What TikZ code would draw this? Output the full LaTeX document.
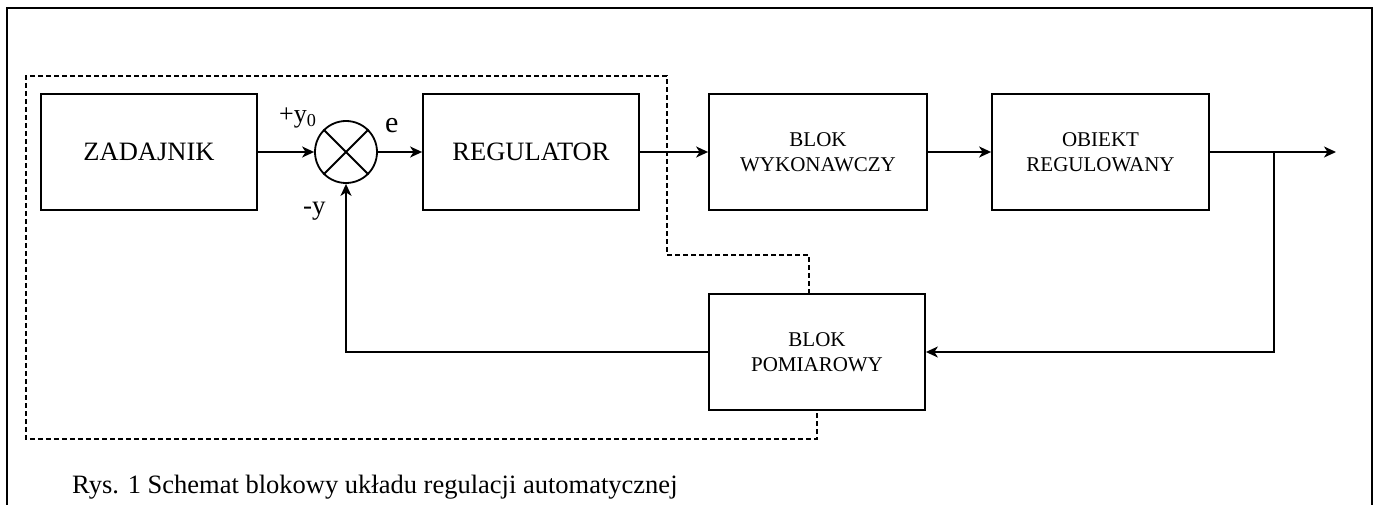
\documentclass[tikz,border=0pt]{standalone}
\usepackage{fontspec}
\setmainfont{Liberation Serif}
\usetikzlibrary{arrows.meta,calc}
\begin{document}
\begin{tikzpicture}[x=1pt,y=-1pt,
  blockbig/.style={draw,line width=1.8pt,minimum width=216pt,minimum height=116pt,inner sep=0pt,align=center,font=\fontsize{26.5}{31}\selectfont},
  blocksmall/.style={draw,line width=1.8pt,minimum width=216pt,minimum height=116pt,inner sep=0pt,align=center,font=\fontsize{21}{25}\selectfont},
  sumnode/.style={draw,line width=1.8pt,circle,minimum size=62pt,inner sep=0pt},
  sig/.style={line width=1.8pt,-{Stealth[length=12pt,width=11pt,inset=3.5pt]}},
  dashline/.style={line width=1.2pt,dash pattern=on 5pt off 3pt},
  frameline/.style={line width=1.8pt},
  lbl/.style={inner sep=0pt,anchor=base west}
]
\useasboundingbox (0,0) rectangle (1377,505);
% outer frame (open at the bottom)
\draw[frameline] (7,505) -- (7,8) -- (1372,8) -- (1372,505);

% blocks
\node[blockbig] (zad) at (149,152) {ZADAJNIK};
\node[sumnode] (sum) at (346,152) {};
\draw[line width=1.8pt] (sum.north west) -- (sum.south east) (sum.north east) -- (sum.south west);
\node[blockbig] (reg) at (531,152) {REGULATOR};
\node[blocksmall,minimum width=218pt] (wyk) at (818,152) {BLOK\\WYKONAWCZY};
\node[blocksmall,minimum width=217pt] (obj) at (1100.5,152) {OBIEKT\\REGULOWANY};
\node[blocksmall] (pom) at (817,352) {BLOK\\POMIAROWY};

% coordinates
\coordinate (br) at (1274,152);
\coordinate (out) at (1336,152);
\coordinate (brdown) at (1274,352);
\coordinate (fbcorner) at (346,352);

% signal connectors
\draw[sig] (zad) -- (sum);
\draw[sig] (sum) -- (reg);
\draw[sig] (reg) -- (wyk);
\draw[sig] (wyk) -- (obj);
\draw[sig] (obj.east) -- (out);
\draw[sig] (br) -- (brdown) -- (pom.east);
\draw[sig] (pom.west) -- (fbcorner) -- (sum.south);

% labels
\node[lbl,font=\fontsize{26}{30}\selectfont] (ly0) at (279,123) {+y\textsubscript{0}};
\node[lbl,font=\fontsize{30}{34}\selectfont] (le) at (385,133) {e};
\node[lbl,font=\fontsize{27}{30}\selectfont] (ly) at (303,215) {-y};

% dashed boundary
\coordinate (d1) at (26,76);
\coordinate (d2) at (667,76);
\coordinate (d3) at (667,255);
\coordinate (d4) at (809,255);
\coordinate (d5) at (809,294);
\coordinate (d6) at (817,410);
\coordinate (d7) at (817,439);
\coordinate (d8) at (26,439);
\draw[dashline] (d5) -- (d4) -- (d3) -- (d2) -- (d1) -- (d8) -- (d7) -- (d6);

% caption
\node[lbl,font=\fontsize{26.5}{30}\selectfont] (cap) at (72,493) {Rys. 1 Schemat blokowy układu regulacji automatycznej};
\end{tikzpicture}
\end{document}
